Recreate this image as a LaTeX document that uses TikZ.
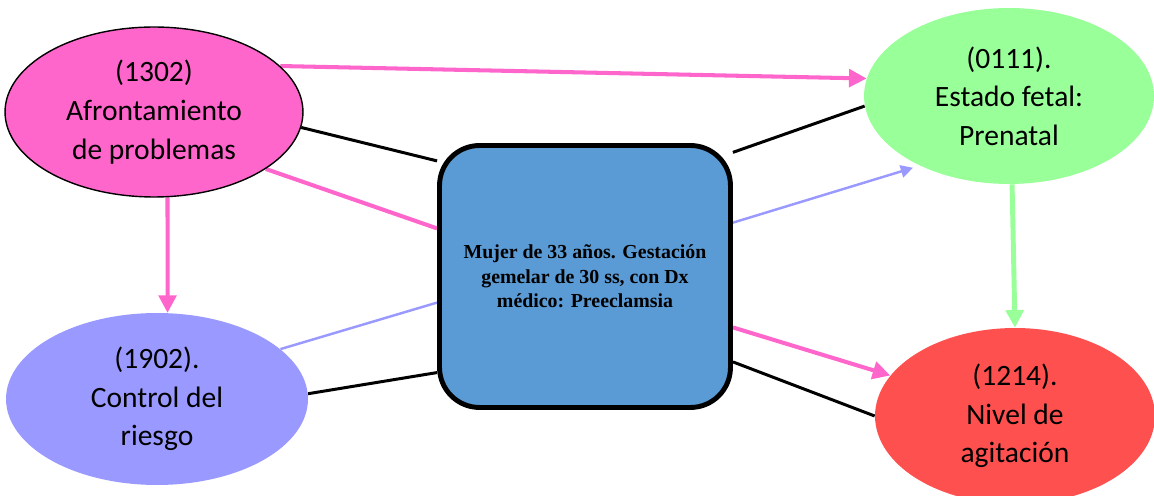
\documentclass[tikz,border=0pt]{standalone}
\usepackage{fontspec}
\setmainfont{Carlito}
\newfontfamily\casefont{Liberation Serif}
\usetikzlibrary{shapes.geometric,arrows.meta,backgrounds}

\definecolor{pinkgoal}{HTML}{FF66CC}
\definecolor{greengoal}{HTML}{99FF99}
\definecolor{bluegoal}{HTML}{9999FF}
\definecolor{redgoal}{HTML}{FF5050}
\definecolor{casefill}{HTML}{5B9BD5}

\tikzset{
	goal/.style={ellipse, inner sep=0pt, align=center,
		font=\fontsize{16.8}{22}\selectfont},
	casebox/.style={rectangle, rounded corners=0.8cm, draw=black, line width=2.8pt,
		fill=casefill, align=center, minimum width=5.82cm, minimum height=5.24cm,
		font=\casefont\bfseries\fontsize{11.3}{14}\selectfont},
	plainlink/.style={line width=1.7pt, black},
	pinklink/.style={line width=2.3pt, pinkgoal},
	pinkarrow/.style={pinklink, -{Triangle[length=10pt,width=10pt]}},
	bluearrow/.style={line width=1.4pt, bluegoal, -{Triangle[length=7pt,width=7pt]}},
	greenarrow/.style={line width=2.8pt, greengoal, -{Triangle[length=10pt,width=10pt]}}
}

\begin{document}
\begin{tikzpicture}[x=0.02cm,y=-0.02cm]
	\useasboundingbox (0,0) rectangle (1154,496);
	% outcome ellipses
	\node[goal, fill=pinkgoal, draw=black, line width=0.8pt,
		minimum width=5.96cm, minimum height=3.4cm] (afront) at (154,112)
		{(1302)\\Afrontamiento\\de problemas};
	\node[goal, fill=greengoal, minimum width=5.8cm, minimum height=3.52cm]
		(fetal) at (1009,96) {(0111).\\Estado fetal:\\Prenatal};
	\node[goal, fill=bluegoal, minimum width=6.04cm, minimum height=3.44cm]
		(riesgo) at (157,399) {(1902).\\Control del\\riesgo};
	\node[goal, fill=redgoal, minimum width=5.6cm, minimum height=3.52cm]
		(agita) at (1015,416) {(1214).\\Nivel de\\agitación};
	% case in the middle
	\node[casebox] (caso) at (585,276.5)
		{Mujer de 33 años. Gestación\\gemelar de 30 ss, con Dx\\médico: Preeclamsia};
	% links between them
	\begin{scope}[on background layer]
		\draw[pinkarrow] (afront.20) -- (fetal.173);
		\draw[plainlink] (afront.-6) -- (caso.142);
		\draw[pinklink] (afront.-27) -- (caso.162);
		\draw[pinkarrow] (afront.-81) -- (riesgo.83);
		\draw[line width=1.4pt, bluegoal] (riesgo.22) -- (caso.190);
		\draw[plainlink] (riesgo.2) -- (caso.213);
		\draw[plainlink] (caso.40) -- (fetal.184);
		\draw[bluearrow, shorten >=0.14cm] (caso.20) -- (fetal.218);
		\draw[greenarrow] (fetal.-88) -- (agita.90);
		\draw[pinkarrow] (caso.-19) -- (agita.162);
		\draw[plainlink] (caso.-30) -- (agita.180);
	\end{scope}
\end{tikzpicture}
\end{document}
